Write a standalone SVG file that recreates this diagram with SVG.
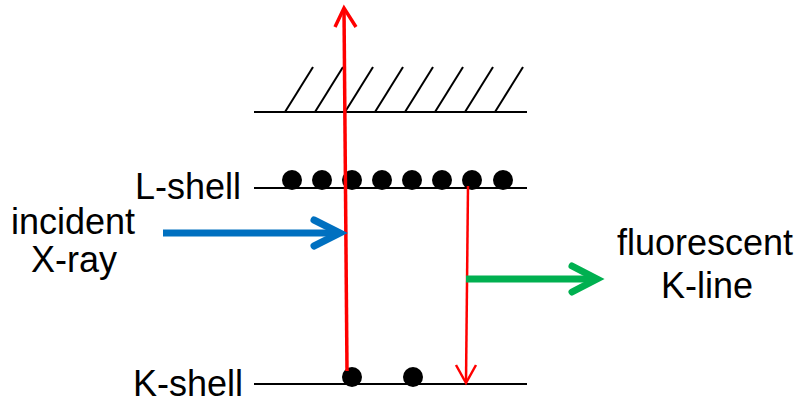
<svg xmlns="http://www.w3.org/2000/svg" width="803" height="400" viewBox="0 0 803 400">
  <style>
    .lbl { font-family: "Liberation Sans", Arial, sans-serif; font-size: 36px; fill: #000; }
    .level { stroke: #000; stroke-width: 2; fill: none; }
    .hatch { stroke: #000; stroke-width: 2; fill: none; }
    .e { fill: #000; }
    .red { stroke: #ff0000; fill: none; stroke-linecap: butt; }
  </style>

  <!-- continuum (vacuum level) with hatching -->
  <g id="continuum">
    <line class="level" x1="254" y1="112" x2="527" y2="112"/>
    <g class="hatch">
      <line x1="285" y1="112" x2="313" y2="67"/>
      <line x1="315" y1="112" x2="343" y2="67"/>
      <line x1="345" y1="112" x2="373" y2="67"/>
      <line x1="375" y1="112" x2="403" y2="67"/>
      <line x1="405" y1="112" x2="433" y2="67"/>
      <line x1="435" y1="112" x2="463" y2="67"/>
      <line x1="465" y1="112" x2="493" y2="67"/>
      <line x1="495" y1="112" x2="523" y2="67"/>
    </g>
  </g>

  <!-- L shell with its electrons -->
  <g id="l-shell">
    <line class="level" x1="254" y1="188" x2="527" y2="188"/>
    <circle class="e" cx="292" cy="180" r="10"/>
    <circle class="e" cx="322" cy="180" r="10"/>
    <circle class="e" cx="352" cy="180" r="10"/>
    <circle class="e" cx="382" cy="180" r="10"/>
    <circle class="e" cx="412" cy="180" r="10"/>
    <circle class="e" cx="442" cy="180" r="10"/>
    <circle class="e" cx="472" cy="180" r="10"/>
    <circle class="e" cx="503" cy="180" r="10"/>
    <text class="lbl" x="241" y="199" text-anchor="end">L-shell</text>
  </g>

  <!-- K shell with its electrons -->
  <g id="k-shell">
    <line class="level" x1="254" y1="384" x2="527" y2="384"/>
    <circle class="e" cx="352" cy="377" r="10"/>
    <circle class="e" cx="413" cy="377" r="10"/>
    <text class="lbl" x="243" y="396" text-anchor="end">K-shell</text>
  </g>

  <g id="incident-label">
    <text class="lbl" x="73" y="234" text-anchor="middle">incident</text>
    <text class="lbl" x="74" y="272" text-anchor="middle">X-ray</text>
  </g>

  <g id="fluorescent-label">
    <text class="lbl" x="705" y="255" text-anchor="middle">fluorescent</text>
    <text class="lbl" x="707" y="298" text-anchor="middle">K-line</text>
  </g>

  <g id="connectors">
    <!-- photoelectron ejected from K shell -->
    <line class="red" stroke-width="3.5" x1="347" y1="371" x2="344" y2="9"/>
    <polyline class="red" stroke-width="3.5" points="335,27 344,8 356,27"/>
    <!-- L to K transition -->
    <line class="red" stroke-width="2.5" x1="468" y1="186" x2="466" y2="382"/>
    <polyline class="red" stroke-width="2.5" points="456,365 466,383 476,365"/>
    <!-- incident X-ray -->
    <g stroke="#0070c0" stroke-width="7" fill="none">
      <line x1="163" y1="233" x2="340" y2="233"/>
      <polyline points="314,220 340,233 314,246" stroke-linecap="round" stroke-linejoin="miter"/>
    </g>
    <!-- emitted fluorescent line -->
    <g stroke="#00b050" stroke-width="7" fill="none">
      <line x1="466" y1="279" x2="597" y2="279"/>
      <polyline points="572,266 597,279 572,292" stroke-linecap="round" stroke-linejoin="miter"/>
    </g>
  </g>
</svg>
